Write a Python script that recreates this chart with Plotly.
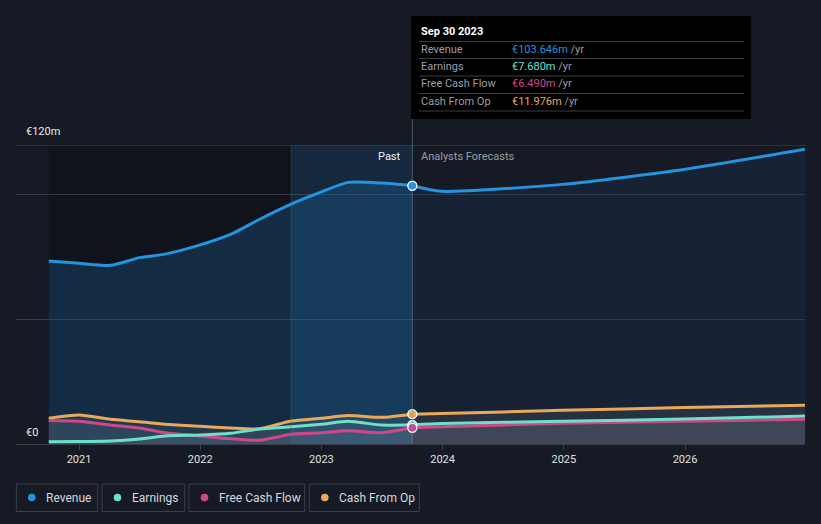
import plotly.graph_objects as go

# ---- data (values in € millions) ----
past_dates = [2020.75, 2021.0, 2021.26, 2021.5, 2021.71, 2022.0, 2022.25, 2022.49, 2022.75, 2023.0, 2023.22, 2023.5, 2023.75]
revenue_past = [73.4, 72.5, 71.7, 74.8, 76.2, 79.9, 84.1, 90.2, 96.3, 101.2, 105.0, 104.7, 103.646]
earnings_past = [0.9, 1.0, 1.2, 2.0, 3.2, 3.6, 4.3, 6.0, 6.9, 7.9, 9.1, 7.6, 7.680]
fcf_past = [9.4, 9.1, 7.6, 6.4, 4.5, 3.2, 2.1, 1.5, 3.9, 4.5, 5.3, 4.5, 6.490]
cfo_past = [10.3, 11.6, 9.9, 8.9, 7.9, 7.1, 6.4, 6.1, 9.2, 10.3, 11.4, 10.7, 11.976]

fc_dates = [2023.75, 2023.99, 2024.99, 2025.99, 2026.99]
revenue_fc = [103.646, 101.4, 104.2, 110.2, 118.3]
earnings_fc = [7.680, 8.2, 9.1, 10.0, 11.2]
fcf_fc = [6.490, 6.9, 8.3, 9.1, 9.9]
cfo_fc = [11.976, 12.2, 13.5, 14.6, 15.6]

year_ticks = [2021, 2022, 2023, 2024, 2025, 2026]
year_labels = ["2021", "2022", "2023", "2024", "2025", "2026"]

series_names = ["Revenue", "Earnings", "Free Cash Flow", "Cash From Op"]
series_colors = ["#2394df", "#6ee0c8", "#d0478a", "#e8a95b"]
tooltip_values = ["€103.646m", "€7.680m", "€6.490m", "€11.976m"]

# ---- layout geometry ----
W, H = 821, 524
L, R, T, B = 16, 16, 145, 80
PW, PH = W - L - R, H - T - B

def px(p):
    return (p - L) / PW

def py(p):
    return (H - B - p) / PH

BG = "#151a24"
fig = go.Figure()

past_list = [revenue_past, earnings_past, fcf_past, cfo_past]
fc_list = [revenue_fc, earnings_fc, fcf_fc, cfo_fc]

# small-series fills first
for i in [3, 2, 1]:
    fig.add_trace(go.Scatter(x=past_dates + fc_dates[1:], y=past_list[i] + fc_list[i][1:],
                             mode="lines", line=dict(width=0, shape="spline", smoothing=0.6),
                             fill="tozeroy", fillcolor="rgba(140,140,150,0.16)",
                             hoverinfo="skip", showlegend=False))
# revenue fill
fig.add_trace(go.Scatter(x=past_dates, y=revenue_past, mode="lines",
                         line=dict(width=0, shape="spline", smoothing=0.6),
                         fill="tozeroy", fillcolor="rgba(30,110,170,0.28)",
                         hoverinfo="skip", showlegend=False))
fig.add_trace(go.Scatter(x=fc_dates, y=revenue_fc, mode="lines",
                         line=dict(width=0, shape="spline", smoothing=0.6),
                         fill="tozeroy", fillcolor="rgba(30,70,110,0.22)",
                         hoverinfo="skip", showlegend=False))

for i in [3, 2, 1, 0]:
    fig.add_trace(go.Scatter(x=past_dates, y=past_list[i], mode="lines",
                             line=dict(color=series_colors[i], width=3, shape="spline", smoothing=0.6),
                             hoverinfo="skip", showlegend=False))
    fig.add_trace(go.Scatter(x=fc_dates, y=fc_list[i], mode="lines",
                             line=dict(color=series_colors[i], width=3, shape="spline", smoothing=0.6),
                             hoverinfo="skip", showlegend=False))
for i in [3, 1, 2, 0]:
    fig.add_trace(go.Scatter(x=[fc_dates[0]], y=[fc_list[i][0]], mode="markers",
                             marker=dict(color=series_colors[i], size=9, line=dict(color="white", width=1.3)),
                             hoverinfo="skip", showlegend=False))

shapes = []
# darker past region
shapes.append(dict(type="rect", xref="x", yref="paper", x0=2020.75, x1=2022.75, y0=0, y1=1,
                   fillcolor="rgba(8,10,14,0.35)", line=dict(width=0), layer="below"))
# highlighted last-year region
shapes.append(dict(type="rect", xref="x", yref="paper", x0=2022.75, x1=2023.75, y0=0, y1=1,
                   fillcolor="rgba(25,90,150,0.22)", line=dict(width=0), layer="below"))
shapes.append(dict(type="line", xref="x", yref="paper", x0=2022.75, x1=2022.75, y0=0, y1=1,
                   line=dict(color="rgba(60,110,160,0.35)", width=1)))
# top gridline at 120
shapes.append(dict(type="line", xref="paper", yref="y", x0=0, x1=1, y0=120, y1=120,
                   line=dict(color="rgba(80,90,105,0.7)", width=1)))
# vertical line at tooltip date
shapes.append(dict(type="line", xref="x", yref="paper", x0=2023.75, x1=2023.75, y0=0, y1=py(16),
                   line=dict(color="rgba(120,140,165,0.55)", width=1)))
# tooltip box
shapes.append(dict(type="rect", xref="paper", yref="paper", x0=px(411), x1=px(751), y0=py(119), y1=py(16),
                   fillcolor="#000000", line=dict(width=0)))
for yy in [41.5, 58.5, 76, 93.5, 111]:
    shapes.append(dict(type="line", xref="paper", yref="paper", x0=px(419), x1=px(744), y0=py(yy), y1=py(yy),
                       line=dict(color="#3a3d44", width=1)))
# legend boxes
legend_boxes = [(16.3, 97.7), (102, 184.7), (189, 304.7), (309.3, 419.3)]
for i, (a, b) in enumerate(legend_boxes):
    shapes.append(dict(type="rect", xref="paper", yref="paper", x0=px(a), x1=px(b), y0=py(511.5), y1=py(484),
                       fillcolor="rgba(0,0,0,0)", line=dict(color="#3b414c", width=1)))
    cx = a + 15.5
    shapes.append(dict(type="circle", xref="paper", yref="paper", x0=px(cx - 3.8), x1=px(cx + 3.8),
                       y0=py(497.5 + 3.8), y1=py(497.5 - 3.8),
                       fillcolor=series_colors[i], line=dict(width=0)))

ann = []
ann.append(dict(x=px(24), y=py(131), xref="paper", yref="paper", text="€120m", showarrow=False,
                xanchor="left", yanchor="middle", font=dict(color="#e8e8e8", size=11)))
ann.append(dict(x=px(24), y=py(432), xref="paper", yref="paper", text="€0", showarrow=False,
                xanchor="left", yanchor="middle", font=dict(color="#e8e8e8", size=11)))
ann.append(dict(x=px(403), y=py(156), xref="paper", yref="paper", text="Past", showarrow=False,
                xanchor="right", yanchor="middle", font=dict(color="#f0f0f0", size=11)))
ann.append(dict(x=px(419), y=py(156), xref="paper", yref="paper", text="Analysts Forecasts", showarrow=False,
                xanchor="left", yanchor="middle", font=dict(color="#9a9ea6", size=11)))
# tooltip text
ann.append(dict(x=px(419), y=py(31), xref="paper", yref="paper", text="<b>Sep 30 2023</b>", showarrow=False,
                xanchor="left", yanchor="middle", font=dict(color="#ffffff", size=11)))
row_y = [49.5, 66.5, 84, 101]
for i in range(4):
    ann.append(dict(x=px(419), y=py(row_y[i]), xref="paper", yref="paper", text=series_names[i],
                    showarrow=False, xanchor="left", yanchor="middle", font=dict(color="#9a9ea6", size=11)))
    ann.append(dict(x=px(510), y=py(row_y[i]), xref="paper", yref="paper",
                    text=f"<span style='color:{series_colors[i]}'>{tooltip_values[i]}</span> /yr",
                    showarrow=False, xanchor="left", yanchor="middle", font=dict(color="#9a9ea6", size=11)))
# legend labels
for i, (a, b) in enumerate(legend_boxes):
    ann.append(dict(x=px(a + 27.5), y=py(497.5), xref="paper", yref="paper",
                    text=series_names[i],
                    showarrow=False, xanchor="left", yanchor="middle", font=dict(color="#d6d8dc", size=12)))

fig.update_layout(
    width=W, height=H, margin=dict(l=L, r=R, t=T, b=B),
    paper_bgcolor=BG, plot_bgcolor=BG,
    font=dict(family="Roboto, 'Open Sans', sans-serif"),
    showlegend=False, shapes=shapes, annotations=ann,
    xaxis=dict(range=[2020.48, 2026.99], tickvals=year_ticks, ticktext=year_labels,
               showgrid=False, zeroline=False, showline=True, linecolor="#3a3f4a", linewidth=1,
               ticks="outside", ticklen=5, tickcolor="#3a3f4a",
               tickfont=dict(color="#e0e0e0", size=11)),
    yaxis=dict(range=[0, 120], tickvals=[50, 100, 120], showticklabels=False,
               showgrid=True, gridcolor="rgba(80,90,105,0.55)", gridwidth=1, zeroline=False),
)

fig.write_html("out.html", config={"displayModeBar": False},
               post_script="document.body.style.margin='0';document.body.style.background='#151a24';")
